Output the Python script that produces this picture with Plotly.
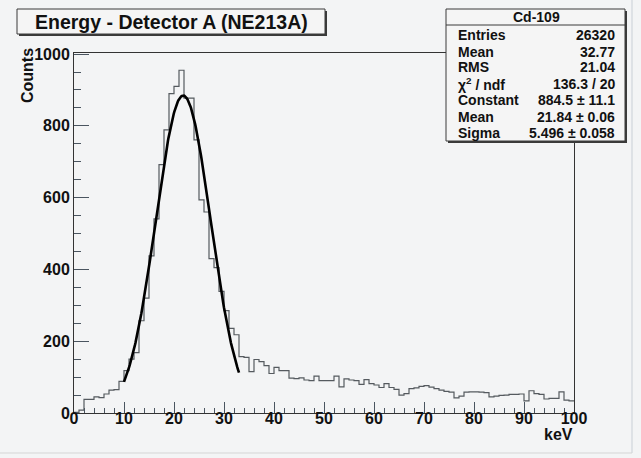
import numpy as np
import plotly.graph_objects as go

# ---------------- data ----------------
bin_low_edges = list(range(0, 100))          # keV, 1 keV bins
counts = [2, 8, 38, 38, 45, 43, 53, 64, 65, 88,
          118, 150, 168, 257, 320, 438, 541, 692, 789, 890,
          910, 955, 877, 877, 761, 594, 560, 430, 405, 339,
          285, 236, 218, 157, 155, 115, 149, 143, 132, 110,
          127, 118, 118, 97, 96, 98, 92, 90, 103, 90,
          90, 90, 103, 73, 95, 92, 90, 80, 93, 82,
          78, 71, 82, 71, 66, 50, 54, 68, 70, 74,
          76, 72, 68, 64, 60, 58, 42, 47, 58, 59,
          59, 58, 57, 45, 47, 49, 50, 52, 52, 53,
          34, 62, 54, 52, 39, 41, 41, 59, 36, 34]

fit_constant = 884.5
fit_mean = 21.84
fit_sigma = 5.496
fit_range = [10, 33]

title_text = "Energy - Detector A (NE213A)"
stats_title = "Cd-109"
stats_labels = ["Entries", "Mean", "RMS", "χ<sup>2</sup> / ndf", "Constant", "Mean", "Sigma"]
stats_values = ["26320", "32.77", "21.04", "136.3 / 20", "884.5 ± 11.1", "21.84 ± 0.06", "5.496 ± 0.058"]

x_ticks = [0, 10, 20, 30, 40, 50, 60, 70, 80, 90, 100]
y_ticks = [0, 200, 400, 600, 800, 1000]

# ---------------- geometry helpers ----------------
W, H = 641, 458
L, R, T, B = 74, 574, 53, 413


def px(xp):
    return (xp - L) / (R - L)


def py(yp):
    return (B - yp) / (B - T)


BG = "#f3f4f5"
FONT = "Liberation Sans, Arial, Helvetica, sans-serif"

fig = go.Figure()

# histogram as step line
hx = bin_low_edges + [bin_low_edges[-1] + 1]
hy = counts + [counts[-1]]
fig.add_trace(go.Scatter(x=hx, y=hy, mode="lines", line=dict(shape="hv", color="#555a5f", width=1.2),
                         hoverinfo="skip", showlegend=False))

# gaussian fit curve (from displayed fit parameters)
fx = np.linspace(fit_range[0], fit_range[1], 200)
fy = fit_constant * np.exp(-0.5 * ((fx - fit_mean) / fit_sigma) ** 2)
fig.add_trace(go.Scatter(x=fx, y=fy, mode="lines", line=dict(color="#000000", width=2.6),
                         hoverinfo="skip", showlegend=False))

axis_common = dict(showgrid=False, zeroline=False, showline=True, mirror=True,
                   linecolor="#333333", linewidth=1, ticks="inside", tickcolor="#4a5560",
                   tickwidth=1,
                   tickfont=dict(family=FONT, size=16, color="#111111", weight="bold"))

fig.update_xaxes(range=[0, 100], tickmode="array", tickvals=x_ticks, ticklen=11,
                 ticklabelstandoff=-9,
                 minor=dict(ticks="inside", ticklen=5, dtick=2, tick0=0, tickcolor="#4a5560", showgrid=False),
                 **axis_common)
fig.update_yaxes(range=[0, 1003], tickmode="array", tickvals=y_ticks, ticklen=15,
                 minor=dict(ticks="inside", ticklen=7, dtick=50, tick0=0, tickcolor="#4a5560", showgrid=False),
                 **axis_common)

shapes = []
# canvas border lines (right and bottom)
shapes.append(dict(type="line", xref="paper", yref="paper", x0=px(632), x1=px(632), y0=py(0), y1=py(453),
                   line=dict(color="#c9cfd6", width=1)))
shapes.append(dict(type="line", xref="paper", yref="paper", x0=px(0), x1=px(632), y0=py(453), y1=py(453),
                   line=dict(color="#d5d5d5", width=1)))

# title box with shadow
shapes.append(dict(type="rect", xref="paper", yref="paper", x0=px(19), x1=px(327), y0=py(36), y1=py(11),
                   line=dict(width=0), fillcolor="#3a3a3a", layer="above"))
shapes.append(dict(type="rect", xref="paper", yref="paper", x0=px(17), x1=px(325), y0=py(34), y1=py(9),
                   line=dict(color="#3a3a3a", width=1), fillcolor="#f5f5f5", layer="above"))

# stats box with shadow
shapes.append(dict(type="rect", xref="paper", yref="paper", x0=px(448), x1=px(627), y0=py(143), y1=py(11),
                   line=dict(width=0), fillcolor="#3a3a3a", layer="above"))
shapes.append(dict(type="rect", xref="paper", yref="paper", x0=px(446), x1=px(625), y0=py(141), y1=py(9),
                   line=dict(color="#3a3a3a", width=1), fillcolor="#f5f5f5", layer="above"))
shapes.append(dict(type="line", xref="paper", yref="paper", x0=px(446), x1=px(625), y0=py(25), y1=py(25),
                   line=dict(color="#3a3a3a", width=1), layer="above"))

annotations = []
annotations.append(dict(xref="paper", yref="paper", x=px(171), y=py(21.5), text="<b>" + title_text + "</b>",
                        showarrow=False, xanchor="center", yanchor="middle",
                        font=dict(family=FONT, size=19.5, color="#111111")))
annotations.append(dict(xref="paper", yref="paper", x=px(536), y=py(17), text="<b>" + stats_title + "</b>",
                        showarrow=False, xanchor="center", yanchor="middle",
                        font=dict(family=FONT, size=14, color="#111111")))
row_y = [35, 51.5, 67.5, 83.5, 100, 116.5, 133]
for lab, val, yy in zip(stats_labels, stats_values, row_y):
    annotations.append(dict(xref="paper", yref="paper", x=px(456), y=py(yy), text="<b>" + lab + "</b>",
                            showarrow=False, xanchor="left", yanchor="middle",
                            font=dict(family=FONT, size=14, color="#111111")))
    annotations.append(dict(xref="paper", yref="paper", x=px(617), y=py(yy), text="<b>" + val + "</b>",
                            showarrow=False, xanchor="right", yanchor="middle",
                            font=dict(family=FONT, size=14, color="#111111")))

# axis titles
annotations.append(dict(xref="paper", yref="paper", x=px(27), y=py(76), text="<b>Counts</b>", textangle=-90,
                        showarrow=False, xanchor="center", yanchor="middle",
                        font=dict(family=FONT, size=16, color="#111111")))
annotations.append(dict(xref="paper", yref="paper", x=px(575), y=py(434), text="<b>keV</b>",
                        showarrow=False, xanchor="right", yanchor="middle",
                        font=dict(family=FONT, size=16, color="#111111")))

fig.update_layout(width=W, height=H, autosize=False,
                  margin=dict(l=L, r=W - R, t=T, b=H - B, pad=0),
                  paper_bgcolor=BG, plot_bgcolor=BG,
                  shapes=shapes, annotations=annotations, showlegend=False)

fig.write_html("out.html", config=dict(displayModeBar=False),
               post_script="document.body.style.margin='0px';document.body.style.background='" + BG + "';")
